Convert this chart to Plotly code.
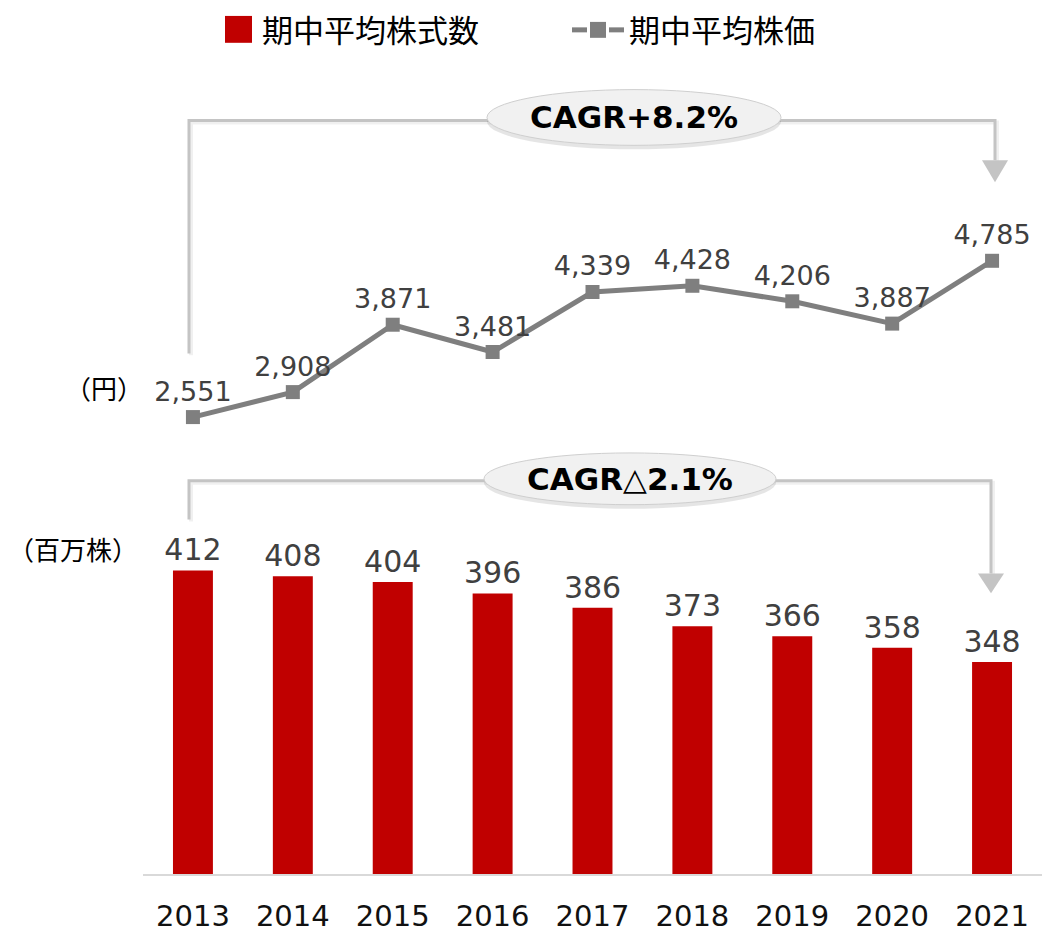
import plotly.graph_objects as go

years = ["2013", "2014", "2015", "2016", "2017", "2018", "2019", "2020", "2021"]
shares = [412, 408, 404, 396, 386, 373, 366, 358, 348]          # 期中平均株式数 (百万株)
prices = [2551, 2908, 3871, 3481, 4339, 4428, 4206, 3887, 4785]  # 期中平均株価 (円)
price_labels = [f"{v:,}" for v in prices]
share_labels = [str(v) for v in shares]

W, H = 1042, 933
ML, MR, MT, MB = 143, 0, 0, 55
PW, PH = W - ML - MR, H - MT - MB


def px(x):
    return (x - ML) / PW


def py(y):
    return (H - MB - y) / PH


NUM_FONT = "DejaVu Sans"
CJK_FONT = "Noto Sans CJK JP"
BAR_RED = "#c00000"
LINE_GRAY = "#7f7f7f"
BRACKET = "#c4c4c4"

fig = go.Figure()

fig.add_trace(go.Bar(
    x=years, y=shares, name="期中平均株式数",
    marker=dict(color=BAR_RED, line=dict(width=0)),
    text=share_labels, textposition="outside", constraintext="none",
    textfont=dict(family=NUM_FONT, size=30, color="#404040"),
    cliponaxis=False, showlegend=False, hoverinfo="skip",
))

fig.add_trace(go.Scatter(
    x=years, y=prices, name="期中平均株価", yaxis="y2",
    mode="lines+markers+text",
    line=dict(color=LINE_GRAY, width=5),
    marker=dict(symbol="square", size=14, color=LINE_GRAY),
    text=price_labels, textposition="top center",
    textfont=dict(family=NUM_FONT, size=27, color="#404040"),
    cliponaxis=False, showlegend=False, hoverinfo="skip",
))

annotations = []

# unit labels
annotations.append(dict(x=px(104), y=py(389), xref="paper", yref="paper", text="（円）",
                        showarrow=False, xanchor="center", yanchor="middle",
                        font=dict(family=CJK_FONT, size=26, color="#000000")))
annotations.append(dict(x=px(73), y=py(551), xref="paper", yref="paper", text="（百万株）",
                        showarrow=False, xanchor="center", yanchor="middle",
                        font=dict(family=CJK_FONT, size=26, color="#000000")))

# legend
annotations.append(dict(x=px(260), y=py(29), xref="paper", yref="paper", text="期中平均株式数",
                        showarrow=False, xanchor="left", yanchor="middle",
                        font=dict(family=CJK_FONT, size=31, color="#000000")))
annotations.append(dict(x=px(627), y=py(29), xref="paper", yref="paper", text="期中平均株価",
                        showarrow=False, xanchor="left", yanchor="middle",
                        font=dict(family=CJK_FONT, size=31, color="#000000")))

shapes = []
# legend marks
shapes.append(dict(type="rect", xref="paper", yref="paper", x0=px(225), x1=px(252), y0=py(16), y1=py(43),
                   fillcolor=BAR_RED, line=dict(width=0)))
for a, b in [(572, 587), (609, 624)]:
    shapes.append(dict(type="line", xref="paper", yref="paper", x0=px(a), x1=px(b), y0=py(30), y1=py(30),
                       line=dict(color=LINE_GRAY, width=5)))
shapes.append(dict(type="rect", xref="paper", yref="paper", x0=px(590), x1=px(606), y0=py(22), y1=py(38),
                   fillcolor=LINE_GRAY, line=dict(width=0)))


def bracket(y_top, left_bottom, right_x, arrow_top, arrow_tip, half):
    out = []
    pts = [(189, left_bottom), (189, y_top), (right_x, y_top), (right_x, arrow_top)]
    path = "M " + " L ".join(f"{px(a)},{py(b)}" for a, b in pts)
    spath = "M " + " L ".join(f"{px(a + 2)},{py(b + 2)}" for a, b in pts)
    out.append(dict(type="path", xref="paper", yref="paper", path=spath,
                    line=dict(color="rgba(0,0,0,0.06)", width=4)))
    out.append(dict(type="path", xref="paper", yref="paper", path=path,
                    line=dict(color=BRACKET, width=3)))
    tri = (f"M {px(right_x - half)},{py(arrow_top)} L {px(right_x + half)},{py(arrow_top)} "
           f"L {px(right_x)},{py(arrow_tip)} Z")
    out.append(dict(type="path", xref="paper", yref="paper", path=tri,
                    fillcolor=BRACKET, line=dict(width=0)))
    return out


shapes += bracket(121, 355, 995, 161, 183, 13)
shapes += bracket(483, 522, 991, 576, 596, 13)


def pill(cx, cy, rx, ry, text):
    s = [
        dict(type="circle", xref="paper", yref="paper",
             x0=px(cx - rx), x1=px(cx + rx), y0=py(cy + ry + 4), y1=py(cy - ry + 4),
             fillcolor="rgba(0,0,0,0.10)", line=dict(width=0)),
        dict(type="circle", xref="paper", yref="paper",
             x0=px(cx - rx), x1=px(cx + rx), y0=py(cy + ry), y1=py(cy - ry),
             fillcolor="#f1f1f1", line=dict(color="#cfcfcf", width=1)),
    ]
    a = dict(x=px(cx), y=py(cy), xref="paper", yref="paper", text=text, showarrow=False,
             xanchor="center", yanchor="middle",
             font=dict(family=NUM_FONT, size=31, color="#000000", weight="bold"))
    return s, a


s1, a1 = pill(634, 118, 147, 28, "CAGR+8.2%")
s2, a2 = pill(630, 481, 146, 26, "CAGR△2.1%")
shapes += s1 + s2
annotations += [a1, a2]

fig.update_layout(
    width=W, height=H,
    margin=dict(l=ML, r=MR, t=MT, b=MB),
    paper_bgcolor="white", plot_bgcolor="white",
    bargap=0.6,
    showlegend=False,
    xaxis=dict(
        type="category", range=[-0.5, 8.5],
        showgrid=False, zeroline=False,
        showline=True, linecolor="#d9d9d9", linewidth=2,
        ticks="", ticklabelstandoff=15,
        tickfont=dict(family=NUM_FONT, size=29, color="#111111"),
    ),
    yaxis=dict(
        domain=[0, py(540)], range=[200, 435],
        visible=False, showgrid=False, zeroline=False,
    ),
    yaxis2=dict(
        domain=[py(440), py(200)], range=[2252, 5667],
        anchor="x", visible=False, showgrid=False, zeroline=False,
    ),
    shapes=shapes,
    annotations=annotations,
)

fig.write_html("out.html", config={"displayModeBar": False},
               post_script="document.body.style.margin='0px';")
